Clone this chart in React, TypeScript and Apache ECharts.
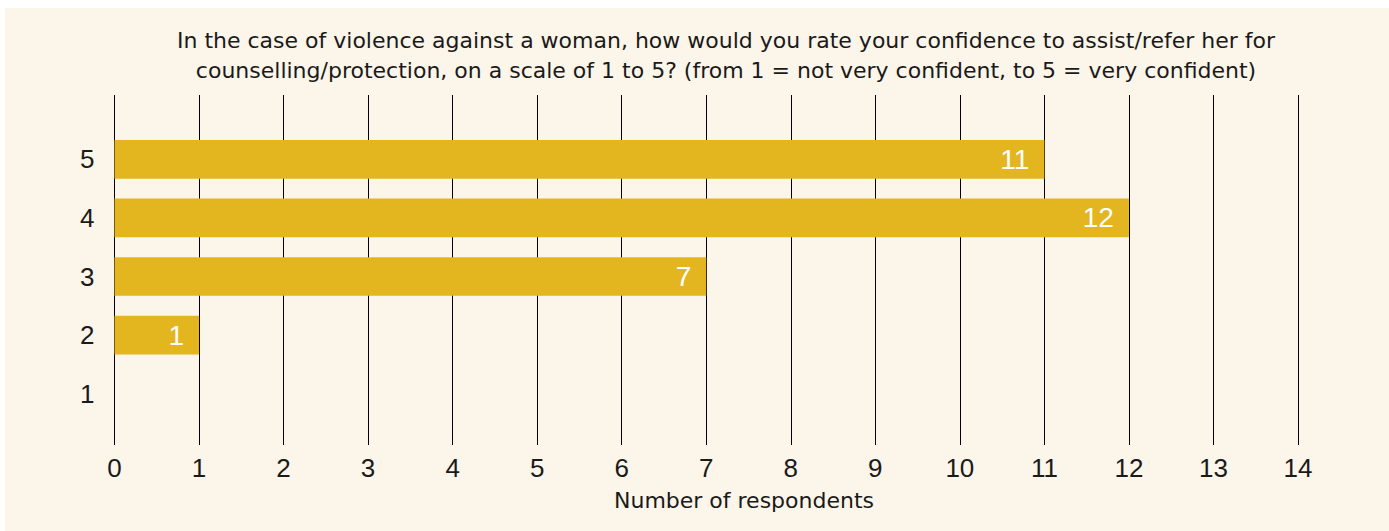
import React, { useEffect, useRef } from "react";
import * as echarts from "echarts";

const categories = ["1", "2", "3", "4", "5"];
const respondents = [0, 1, 7, 12, 11];
const xTicks = [0, 14];
const titleLines = [
  "In the case of violence against a woman, how would you rate your confidence to assist/refer her for",
  "counselling/protection, on a scale of 1 to 5? (from 1 = not very confident, to 5 = very confident)",
];
const xAxisName = "Number of respondents";

const FONT = "'Liberation Sans', Arial, sans-serif";
const TITLE_FONT = "'DejaVu Sans', 'Liberation Sans', sans-serif";
const TICK_FONT = "'Liberation Sans Narrow', 'Liberation Sans', sans-serif";
const TEXT = "#1a1a1a";
const BAR = "#E3B61F";
const BG = "#FCF5E9";

export default function App() {
  const ref = useRef<HTMLDivElement>(null);
  useEffect(() => {
    if (!ref.current) return;
    const chart = echarts.init(ref.current, null, { renderer: "svg" });
    chart.setOption({
      animation: false,
      backgroundColor: BG,
      graphic: [
        {
          type: "text",
          x: 721,
          y: 47,
          style: {
            text: titleLines.join("\n"),
            font: `22px ${TITLE_FONT}`,
            fill: TEXT,
            textAlign: "center",
            textVerticalAlign: "middle",
            lineHeight: 30,
          },
        },
        {
          type: "text",
          x: 739,
          y: 492,
          style: {
            text: xAxisName,
            font: `22px ${TITLE_FONT}`,
            fill: TEXT,
            textAlign: "center",
            textVerticalAlign: "middle",
          },
        },
      ],
      grid: [
        { left: 109.5, right: 91, top: 87, bottom: 86 },
        { left: 109.5, right: 91, top: 122, height: 293 },
      ],
      xAxis: [
        {
          gridIndex: 0,
          type: "value",
          min: xTicks[0],
          max: xTicks[1],
          interval: 1,
          axisLine: { show: false },
          axisTick: { show: false },
          splitLine: { show: true, lineStyle: { color: "#000", width: 1 } },
          axisLabel: { color: TEXT, fontSize: 26, fontFamily: TICK_FONT, margin: 10 },
        },
        {
          gridIndex: 1,
          type: "value",
          min: xTicks[0],
          max: xTicks[1],
          interval: 1,
          show: false,
          splitLine: { show: false },
        },
      ],
      yAxis: [
        {
          gridIndex: 0,
          type: "category",
          data: categories,
          show: false,
        },
        {
          gridIndex: 1,
          type: "category",
          data: categories,
          axisLine: { show: false },
          axisTick: { show: false },
          splitLine: { show: false },
          axisLabel: { color: TEXT, fontSize: 26, fontFamily: TICK_FONT, margin: 20 },
        },
      ],
      series: [
        {
          type: "bar",
          xAxisIndex: 1,
          yAxisIndex: 1,
          data: respondents,
          barCategoryGap: "34%",
          itemStyle: { color: BAR },
          label: {
            show: true,
            position: "insideRight",
            distance: 15,
            color: "#fff",
            fontSize: 28,
            fontFamily: FONT,
            formatter: (p: any) => (p.value > 0 ? String(p.value) : ""),
          },
        },
      ],
    });
    return () => chart.dispose();
  }, []);
  return (
    <div
      ref={ref}
      style={{ position: "absolute", left: 5, top: 8, width: 1384, height: 523 }}
    />
  );
}
